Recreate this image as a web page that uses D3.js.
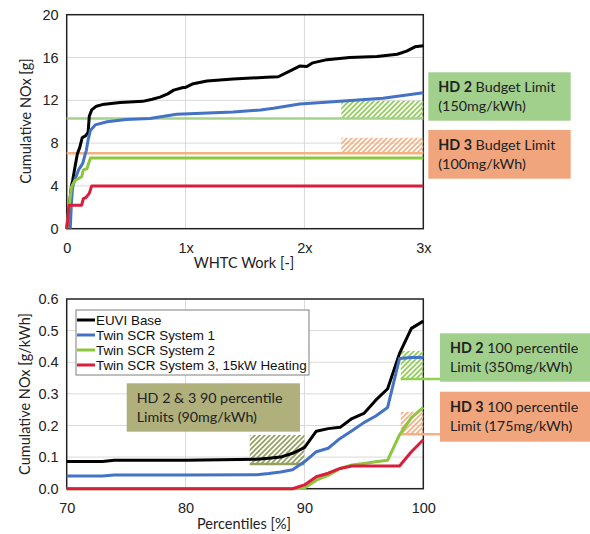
<!DOCTYPE html>
<html lang="en">
<head>
<meta charset="UTF-8">
<title>Cumulative NOx - Twin SCR Systems</title>
<script src="https://d3js.org/d3.v7.min.js"></script>
<style>
    body { margin: 0; background: #fff; }
    svg { display: block; font-family: 'Lato', 'Open Sans', sans-serif; }
    .tick text { font-size: 14.5px; fill: #222; }
    .grid line { stroke: #d9d9d9; stroke-width: 1; }
    .frame { fill: none; stroke: #222; stroke-width: 1.5; }
    .series { fill: none; stroke-width: 3; stroke-linejoin: round; }
    .axis-title { font-size: 14.5px; fill: #222; }
    .note { font-size: 14.3px; fill: #222; }
    .legend text { font-family: 'Liberation Sans', Arial, sans-serif; font-size: 13.4px; fill: #111; }
</style>
</head>
<body>
<div id="chart"></div>
<script>
// ---- data: top chart (cumulative NOx vs WHTC work) ----
const workTicks = [0, 1, 2, 3];
const workLabels = ["0", "1x", "2x", "3x"];
const noxTicks = [0, 4, 8, 12, 16, 20];

const topEuvi = [[0,0],[0.01,0.8],[0.02,1.8],[0.03,3.0],[0.04,4.0],[0.05,4.5],[0.07,5.8],[0.09,7.0],[0.11,7.6],
    [0.13,8.5],[0.16,8.7],[0.18,9.0],[0.19,10.5],[0.21,11.1],[0.25,11.45],[0.3,11.6],[0.45,11.8],[0.64,11.9],
    [0.72,12.1],[0.785,12.3],[0.85,12.6],[0.9,12.95],[0.98,13.2],[1.0,13.2],[1.065,13.55],[1.18,13.8],[1.4,14.0],
    [1.68,14.15],[1.78,14.2],[1.88,14.75],[1.96,15.2],[2.02,15.15],[2.07,15.5],[2.19,15.8],[2.38,16.0],
    [2.61,16.1],[2.78,16.3],[2.86,16.6],[2.93,17.0],[3.0,17.1]];
const topSys1 = [[0.03,0],[0.04,2.5],[0.05,3.9],[0.07,4.6],[0.1,5.5],[0.135,6.1],[0.154,6.9],[0.165,7.3],
    [0.18,8.3],[0.2,9.2],[0.24,9.7],[0.34,10.0],[0.5,10.2],[0.7,10.3],[0.925,10.7],[1.4,10.9],[1.63,11.1],
    [1.74,11.25],[1.96,11.65],[2.24,11.87],[2.66,12.2],[3.0,12.7]];
const topSys2 = [[0,0],[0.02,2.0],[0.04,3.9],[0.07,4.5],[0.126,4.85],[0.14,5.5],[0.17,5.6],[0.18,5.95],[0.2,6.6],[3.0,6.6]];
const topSys3 = [[0,0],[0.01,1.0],[0.02,2.2],[0.126,2.2],[0.14,2.8],[0.16,2.9],[0.19,3.3],[0.21,4.0],[3.0,4.0]];

// budget limits [g]: limit line value, hatch top, hatch start (work)
const hd2Budget = [10.3, 11.95, 2.31];
const hd3Budget = [7.05, 8.5, 2.31];

// ---- data: bottom chart (cumulative NOx vs percentile) ----
const pctTicks = [70, 80, 90, 100];
const rateTicks = [0, 0.1, 0.2, 0.3, 0.4, 0.5, 0.6];
const percentiles = [70, 73, 74, 80, 86, 87, 88, 89, 90, 91, 92, 93, 94, 95, 96, 97, 98, 99, 100];
const pctEuvi = [0.086,0.086,0.09,0.09,0.093,0.096,0.1,0.112,0.13,0.182,0.19,0.194,0.222,0.238,0.28,0.316,0.428,0.507,0.53];
const pctSys1 = [0.04,0.04,0.043,0.043,0.044,0.048,0.053,0.06,0.085,0.117,0.128,0.159,0.183,0.209,0.23,0.257,0.412,0.415,0.415];
const pctSys2 = [0,0,0,0,0,0,0,0,0.002,0.027,0.042,0.064,0.075,0.08,0.085,0.09,0.17,0.225,0.257];
const pctSys3 = [0,0,0,0,0,0,0,0,0.012,0.038,0.049,0.064,0.072,0.072,0.072,0.072,0.072,0.117,0.155];

// percentile limits [g/kWh]: [x0, x1, y0, y1]
const lim90 = [85.4, 90.0, 0.078, 0.17];
const hd2Lim100 = [98.1, 100, 0.347, 0.436];
const hd3Lim100 = [98.1, 100, 0.172, 0.243];

const seriesNames = ["EUVI Base", "Twin SCR System 1", "Twin SCR System 2", "Twin SCR System 3, 15kW Heating"];
const seriesColors = ["#000000", "#4472c4", "#8dc63f", "#d81e3c"];

const svg = d3.select("#chart").append("svg").attr("width", 590).attr("height", 534);
const defs = svg.append("defs");

function hatch(id, color) {
    defs.append("pattern")
        .attr("id", id)
        .attr("patternUnits", "userSpaceOnUse")
        .attr("width", 5).attr("height", 5)
        .append("path")
        .attr("d", "M-1,1 l2,-2 M0,5 l5,-5 M4,6 l2,-2")
        .attr("stroke", color)
        .attr("stroke-width", 1.7);
}
hatch("hGreen", "#8fcf55");
hatch("hOrange", "#f4b183");
hatch("hOlive", "#93a060");

function frameAndAxes(g, x, y, xTicks, xFmt, yTicks, yFmt) {
    const [x0, x1] = x.range();
    const [y0, y1] = y.range();
    g.append("g").attr("class", "grid")
        .selectAll("line").data(yTicks.slice(1, -1)).join("line")
        .attr("x1", x0).attr("x2", x1)
        .attr("y1", d => y(d)).attr("y2", d => y(d));
    g.append("g").attr("class", "grid")
        .selectAll("line").data(xTicks.slice(1, -1)).join("line")
        .attr("y1", y0).attr("y2", y1)
        .attr("x1", d => x(d)).attr("x2", d => x(d));

    g.append("g")
        .attr("transform", `translate(${x0},0)`)
        .call(d3.axisLeft(y).tickValues(yTicks).tickFormat(yFmt).tickSize(0).tickPadding(8))
        .call(a => a.select(".domain").remove());
    g.append("g")
        .attr("transform", `translate(0,${y0})`)
        .call(d3.axisBottom(x).tickValues(xTicks).tickFormat(xFmt).tickSize(0).tickPadding(14))
        .call(a => a.select(".domain").remove());

    g.append("rect").attr("class", "frame")
        .attr("x", x0).attr("y", y1)
        .attr("width", x1 - x0).attr("height", y0 - y1);
}

function noteBox(x, y, w, h, fill, bold, rest, line2) {
    svg.append("rect").attr("x", x).attr("y", y).attr("width", w).attr("height", h).attr("fill", fill);
    const t = svg.append("text").attr("class", "note").attr("x", x + 10).attr("y", y + 20);
    if (bold) t.append("tspan").attr("font-weight", "bold").text(bold);
    t.append("tspan").text(rest);
    svg.append("text").attr("class", "note").attr("x", x + 10).attr("y", y + 39).text(line2);
}

// ================= TOP CHART =================
const xTop = d3.scaleLinear().domain([0, 3]).range([66.7, 423.3]);
const yTop = d3.scaleLinear().domain([0, 20]).range([228.7, 14.7]);
const topG = svg.append("g");

frameAndAxes(topG, xTop, yTop, workTicks, (d, i) => workLabels[i], noxTicks, d3.format("d"));

[[hd2Budget, "hGreen"], [hd3Budget, "hOrange"]].forEach(([b, id]) => {
    topG.append("rect")
        .attr("x", xTop(b[2])).attr("width", xTop(3) - xTop(b[2]))
        .attr("y", yTop(b[1])).attr("height", yTop(b[0]) - yTop(b[1]))
        .attr("fill", `url(#${id})`);
});
topG.append("line").attr("x1", xTop(0)).attr("x2", xTop(3))
    .attr("y1", yTop(hd2Budget[0])).attr("y2", yTop(hd2Budget[0]))
    .attr("stroke", "#a9d18e").attr("stroke-width", 2.5);
topG.append("line").attr("x1", xTop(0)).attr("x2", xTop(3))
    .attr("y1", yTop(hd3Budget[0])).attr("y2", yTop(hd3Budget[0]))
    .attr("stroke", "#f4b183").attr("stroke-width", 2.5);

const lineTop = d3.line().x(d => xTop(d[0])).y(d => yTop(d[1]));
[topEuvi, topSys1, topSys2, topSys3].forEach((s, i) => {
    topG.append("path").attr("class", "series").attr("d", lineTop(s)).attr("stroke", seriesColors[i]);
});

svg.append("text").attr("class", "axis-title").attr("text-anchor", "middle")
    .attr("x", 244).attr("y", 268).text("WHTC Work [-]");
svg.append("text").attr("class", "axis-title").attr("text-anchor", "middle")
    .attr("transform", "translate(31,121) rotate(-90)").text("Cumulative NOx [g]");

noteBox(428.3, 72.3, 142.4, 48.4, "#a0d08c", "HD 2", " Budget Limit", "(150mg/kWh)");
noteBox(428.3, 130, 142.4, 48.7, "#f0a57d", "HD 3", " Budget Limit", "(100mg/kWh)");

// ================= BOTTOM CHART =================
const xBot = d3.scaleLinear().domain([70, 100]).range([66.7, 423.3]);
const yBot = d3.scaleLinear().domain([0, 0.6]).range([488.7, 299]);
const botG = svg.append("g");

frameAndAxes(botG, xBot, yBot, pctTicks, d3.format("d"), rateTicks, d3.format(".1f"));

function limitHatch(l, id, color, lineTo) {
    botG.append("rect")
        .attr("x", xBot(l[0])).attr("width", xBot(l[1]) - xBot(l[0]))
        .attr("y", yBot(l[3])).attr("height", yBot(l[2]) - yBot(l[3]))
        .attr("fill", `url(#${id})`);
    botG.append("line")
        .attr("x1", xBot(l[0])).attr("x2", lineTo || xBot(l[1]))
        .attr("y1", yBot(l[2])).attr("y2", yBot(l[2]))
        .attr("stroke", color).attr("stroke-width", 2.5);
}
limitHatch(lim90, "hOlive", "#93a060");
limitHatch(hd2Lim100, "hGreen", "#92d050", 441);
limitHatch(hd3Lim100, "hOrange", "#f4b183", 441);

const lineBot = d3.line().x(d => xBot(d[0])).y(d => yBot(d[1]));
[pctEuvi, pctSys1, pctSys2, pctSys3].forEach((s, i) => {
    botG.append("path").attr("class", "series")
        .attr("d", lineBot(percentiles.map((p, j) => [p, s[j]])))
        .attr("stroke", seriesColors[i]);
});

// legend
const legend = svg.append("g").attr("class", "legend");
legend.append("rect").attr("x", 76).attr("y", 310).attr("width", 233).attr("height", 65)
    .attr("fill", "#fff").attr("stroke", "#7f7f7f").attr("stroke-width", 1);
seriesNames.forEach((name, i) => {
    const ly = 320 + i * 15;
    legend.append("line").attr("x1", 77).attr("x2", 95).attr("y1", ly).attr("y2", ly)
        .attr("stroke", seriesColors[i]).attr("stroke-width", 3);
    legend.append("text").attr("x", 96).attr("y", ly).attr("dy", "0.36em").text(name);
});

noteBox(126.7, 383.3, 173.3, 48.4, "#afb07c", null, "HD 2 & 3 90 percentile", "Limits (90mg/kWh)");
noteBox(440, 333.3, 150, 48.4, "#a0d08c", "HD 2", " 100 percentile", "Limit (350mg/kWh)");
noteBox(440, 391.7, 150, 50, "#f0a57d", "HD 3", " 100 percentile", "Limit (175mg/kWh)");

svg.append("text").attr("class", "axis-title").attr("text-anchor", "middle")
    .attr("x", 244).attr("y", 529).text("Percentiles [%]");
svg.append("text").attr("class", "axis-title").attr("text-anchor", "middle")
    .attr("transform", "translate(30,394) rotate(-90)").text("Cumulative NOx [g/kWh]");
</script>
</body>
</html>
